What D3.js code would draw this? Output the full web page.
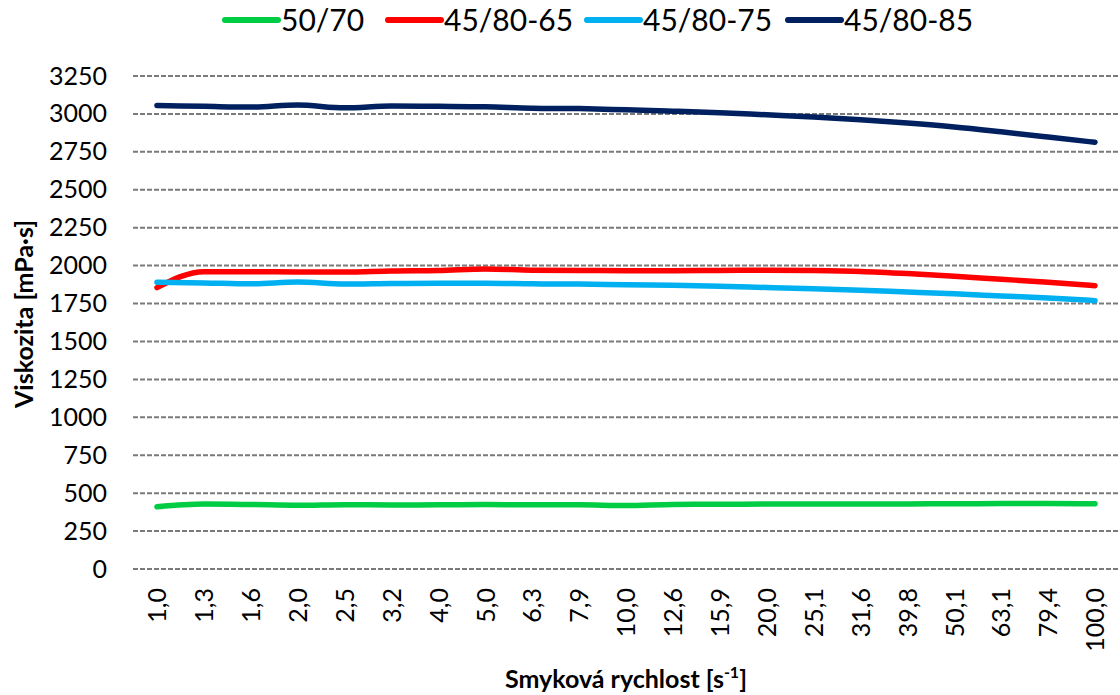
<!DOCTYPE html>
<html><head><meta charset="utf-8">
<script src="https://cdn.jsdelivr.net/npm/d3@7"></script>
<style>body{margin:0;background:#fff}svg{display:block}text{font-family:Lato,"Open Sans",sans-serif}</style>
</head><body><svg id="c" width="1120" height="695"></svg>
<script>
const categories = ["1,0","1,3","1,6","2,0","2,5","3,2","4,0","5,0","6,3","7,9","10,0","12,6","15,9","20,0","25,1","31,6","39,8","50,1","63,1","79,4","100,0"];
const s5070 = [410,428,425,420,424,422,423,425,423,424,418,426,427,428,428,428,429,430,431,432,430];
const s8065 = [1855,1960,1960,1958,1958,1965,1968,1978,1970,1968,1966,1966,1968,1970,1968,1962,1948,1930,1910,1890,1868];
const s8075 = [1890,1886,1880,1892,1878,1882,1884,1884,1880,1878,1874,1870,1864,1856,1848,1838,1826,1814,1800,1786,1769];
const s8085 = [3055,3050,3045,3059,3040,3052,3050,3047,3038,3035,3027,3018,3008,2994,2980,2962,2940,2914,2882,2848,2813];
const yTicks = [0,250,500,750,1000,1250,1500,1750,2000,2250,2500,2750,3000,3250];
const seriesNames = ["50/70","45/80-65","45/80-75","45/80-85"];
const seriesColors = ["#00CC44","#FF0000","#00B0F0","#002060"];
const seriesData = [s5070, s8065, s8075, s8085];

const svg = d3.select("#c");
const x = d3.scalePoint().domain(categories).range([157, 1095]);
const y = d3.scaleLinear().domain([0, 3250]).range([569, 76]);
const gridX0 = 133, gridX1 = 1118;

// gridlines
svg.append("g").selectAll("line").data(yTicks).join("line")
  .attr("x1", gridX0).attr("x2", gridX1)
  .attr("y1", d => y(d)).attr("y2", d => y(d))
  .attr("stroke", "#7a7a7a").attr("stroke-width", 2).attr("stroke-dasharray", "5,2");

// y axis
const ya = svg.append("g").attr("transform", "translate(107,0)")
  .call(d3.axisLeft(y).tickValues(yTicks).tickSize(0).tickPadding(0).tickFormat(d => d));
ya.select(".domain").remove();
ya.selectAll("text").attr("font-size", 25).attr("fill", "#000").style("font-family", "Lato");

// x axis labels
const xa = svg.append("g").attr("transform", "translate(0,588)")
  .call(d3.axisBottom(x).tickSize(0).tickPadding(0));
xa.select(".domain").remove();
xa.selectAll("text").attr("font-size", 25).attr("fill", "#000").style("font-family", "Lato")
  .attr("transform", "rotate(-90)").attr("text-anchor", "end").attr("dy", "0.35em").attr("x", 0).attr("y", 0);

// lines
const line = d3.line().x((d, i) => x(categories[i])).y(d => y(d)).curve(d3.curveMonotoneX);
seriesData.forEach((s, k) => {
  svg.append("path").datum(s).attr("d", line).attr("fill", "none")
    .attr("stroke", seriesColors[k]).attr("stroke-width", 5.5)
    .attr("stroke-linecap", "round").attr("stroke-linejoin", "round");
});

// legend
const legX = [223, 386, 585, 786];
seriesNames.forEach((n, k) => {
  const g = svg.append("g").attr("transform", `translate(${legX[k]},20)`);
  g.append("line").attr("x1", 2).attr("x2", 55).attr("stroke", seriesColors[k]).attr("stroke-width", 6).attr("stroke-linecap", "round");
  g.append("text").attr("x", 58).attr("dy", "0.36em").attr("font-size", 30).text(n);
});

// axis titles
svg.append("text").attr("transform", "translate(33,314) rotate(-90)").attr("text-anchor", "middle")
  .attr("font-size", 25).attr("font-weight", "bold").text("Viskozita [mPa·s]");
const xt = svg.append("text").attr("x", 626).attr("y", 688).attr("text-anchor", "middle")
  .attr("font-size", 25).attr("font-weight", "bold");
xt.append("tspan").text("Smyková rychlost [s");
xt.append("tspan").attr("font-size", 16).attr("dy", -10).text("-1");
xt.append("tspan").attr("dy", 10).text("]");
</script></body></html>
